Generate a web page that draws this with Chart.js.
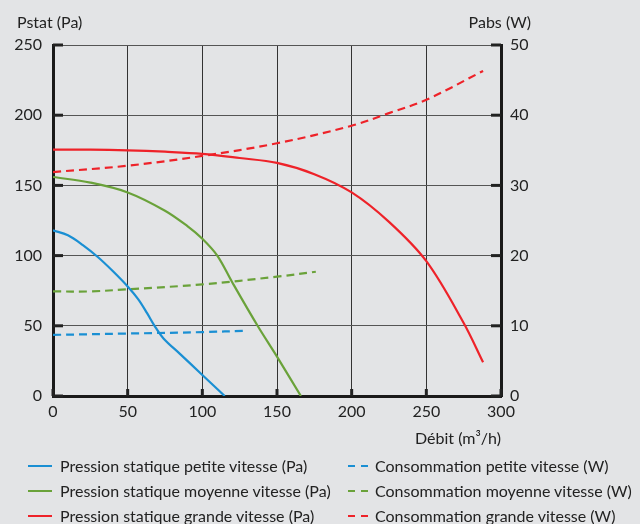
<!DOCTYPE html>
<html>
<head>
<meta charset="utf-8">
<script src="https://cdn.jsdelivr.net/npm/chart.js@4.4.1/dist/chart.umd.min.js"></script>
<style>
  html, body { margin: 0; padding: 0; background: #e3e4e6; }
  #wrap { position: relative; width: 640px; height: 524px; font-family: Lato, "Open Sans", sans-serif; color: #222; }
  canvas { position: absolute; left: 0; top: 0; }
  .leg { position: absolute; font-size: 16px; white-space: nowrap; line-height: 18px; }
  .sw { position: absolute; top: 8px; height: 2px; }
  .solid { width: 24px; }
  .dash { width: 20px; }
</style>
</head>
<body>
<div id="wrap">
  <canvas id="chart" width="640" height="524"></canvas>
  <div id="legend"></div>
</div>
<script>
// Axis ticks
const xTicks = [0, 50, 100, 150, 200, 250, 300];
const paTicks = [0, 50, 100, 150, 200, 250];
const wTicks = [0, 10, 20, 30, 40, 50];

// Static pressure (Pa) against flow (m3/h)
const petitePa = [[0,118],[10,114.5],[20,107.5],[30,99],[40,89],[50,78],[57,69],[63,59],[68,50],[74,41],[85,30],[100,15],[115,0]];
const moyennePa = [[0,156],[25,152],[50,145],[75,132],[90,121],[100,112],[110,100],[120,81],[137,50],[150,28],[166,0]];
const grandePa = [[0,175.5],[25,175.5],[50,175],[75,174],[100,172.5],[125,169.5],[150,166],[175,158],[200,145],[225,124],[250,96],[275,52],[288,24]];

// Power consumption (W) against flow (m3/h)
const petiteW = [[0,8.7],[50,8.9],[100,9.1],[130,9.3]];
const moyenneW = [[0,14.9],[25,14.9],[50,15.2],[100,15.9],[150,17],[176,17.7]];
const grandeW = [[0,31.9],[50,32.8],[100,34.2],[150,36],[200,38.5],[225,40.3],[250,42.2],[288,46.3]];

const BLUE = '#1a8fd3';
const GREEN = '#6aa23a';
const RED = '#ee2229';

const toXY = arr => arr.map(p => ({ x: p[0], y: p[1] }));

function line(label, data, color, axis, dashed) {
    return {
        label: label,
        data: toXY(data),
        borderColor: color,
        borderWidth: 2.2,
        borderDash: dashed ? [8, 5] : [],
        pointRadius: 0,
        fill: false,
        tension: 0.35,
        yAxisID: axis
    };
}

const datasets = [
    line('Pression statique petite vitesse (Pa)', petitePa, BLUE, 'y', false),
    line('Pression statique moyenne vitesse (Pa)', moyennePa, GREEN, 'y', false),
    line('Pression statique grande vitesse (Pa)', grandePa, RED, 'y', false),
    line('Consommation petite vitesse (W)', petiteW, BLUE, 'y2', true),
    line('Consommation moyenne vitesse (W)', moyenneW, GREEN, 'y2', true),
    line('Consommation grande vitesse (W)', grandeW, RED, 'y2', true)
];

const FONT = { family: 'Lato, "Open Sans", sans-serif', size: 16 };

// axis titles and inner tick marks
const extras = {
    id: 'extras',
    afterDraw(chart) {
        const c = chart.ctx, a = chart.chartArea;
        c.save();
        c.fillStyle = '#222';
        c.font = '16px Lato, "Open Sans", sans-serif';
        c.textBaseline = 'alphabetic';
        c.textAlign = 'left';
        c.fillText('Pstat (Pa)', 17, 28);
        c.textAlign = 'right';
        c.fillText('Pabs (W)', 531, 28);
        c.fillText('Débit (m³/h)', a.right, 444);
        // short thick tick marks inside the frame
        c.strokeStyle = '#222';
        c.lineWidth = 3;
        const ys = chart.scales.y, xs = chart.scales.x;
        paTicks.forEach(v => {
            const py = ys.getPixelForValue(v);
            c.beginPath(); c.moveTo(a.left, py); c.lineTo(a.left + 10, py); c.stroke();
            c.beginPath(); c.moveTo(a.right - 10, py); c.lineTo(a.right, py); c.stroke();
        });
        xTicks.forEach(v => {
            const px = xs.getPixelForValue(v);
            c.beginPath(); c.moveTo(px, a.bottom); c.lineTo(px, a.bottom - 7); c.stroke();
        });
        c.restore();
    }
};

new Chart(document.getElementById('chart'), {
    type: 'line',
    data: { datasets: datasets },
    plugins: [extras],
    options: {
        responsive: false,
        animation: false,
        layout: { padding: { top: 45, left: 0, right: 0, bottom: 0 } },
        plugins: { legend: { display: false }, tooltip: { enabled: false } },
        scales: {
            x: {
                type: 'linear', min: 0, max: 300,
                afterBuildTicks: s => { s.ticks = xTicks.map(v => ({ value: v })); },
                afterFit: s => { s.height = 128; },
                grid: { color: '#333', lineWidth: 1, drawTicks: false },
                border: { color: '#1a1a1a', width: 3 },
                ticks: { color: '#222', font: FONT, padding: 6, maxRotation: 0 }
            },
            y: {
                position: 'left', min: 0, max: 250,
                afterBuildTicks: s => { s.ticks = paTicks.map(v => ({ value: v })); },
                afterFit: s => { s.width = 53; },
                grid: { color: '#555', lineWidth: 1, drawTicks: false },
                border: { color: '#1a1a1a', width: 3 },
                ticks: { color: '#222', font: FONT, padding: 11 }
            },
            y2: {
                position: 'right', min: 0, max: 50,
                afterBuildTicks: s => { s.ticks = wTicks.map(v => ({ value: v })); },
                afterFit: s => { s.width = 139; },
                grid: { display: false, drawTicks: false },
                border: { color: '#1a1a1a', width: 3 },
                ticks: { color: '#222', font: FONT, padding: 9 }
            }
        }
    }
});

// legend: solid pressures left, dashed consumption right
const legend = document.getElementById('legend');
const rowsY = [457, 482, 507];
datasets.forEach((d, i) => {
    const dashed = i >= 3;
    const row = i % 3;
    const el = document.createElement('div');
    el.className = 'leg';
    el.style.top = rowsY[row] + 'px';
    el.style.left = (dashed ? 348 : 28) + 'px';
    el.style.paddingLeft = (dashed ? 27 : 32) + 'px';
    const sw = document.createElement('span');
    sw.className = 'sw ' + (dashed ? 'dash' : 'solid');
    sw.style.left = '0px';
    sw.style.background = dashed
        ? 'repeating-linear-gradient(to right, ' + d.borderColor + ' 0 7px, transparent 7px 13px)'
        : d.borderColor;
    el.appendChild(sw);
    el.appendChild(document.createTextNode(d.label));
    legend.appendChild(el);
});
</script>
</body>
</html>
